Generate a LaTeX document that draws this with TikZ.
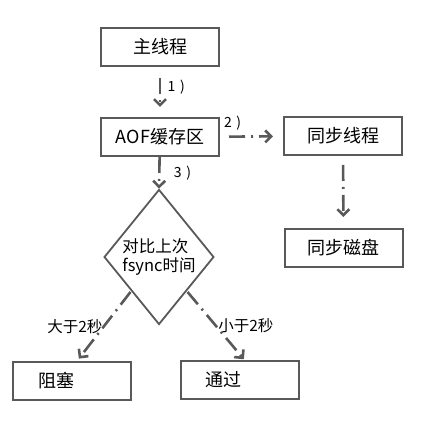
\documentclass[tikz,border=0pt]{standalone}
\usepackage{fontspec}
\setmainfont{Noto Sans CJK SC}
\usetikzlibrary{arrows.meta,shapes.geometric}
\definecolor{lngray}{RGB}{89,89,89}

\begin{document}
\begin{tikzpicture}[x=1pt, y=1pt,
  box/.style={draw=lngray, line width=2pt, minimum width=118pt,
    minimum height=38pt, inner sep=0pt, font=\fontsize{18}{21}\selectfont},
  endbox/.style={box, text width=68pt, inner xsep=25pt, align=left},
  choice/.style={draw=lngray, line width=1.8pt, diamond, inner sep=0pt,
    minimum width=106pt, minimum height=135pt, align=left,
    font=\fontsize{16.5}{19}\selectfont},
  arr/.style={-{Straight Barb[length=6pt, width=12pt]}, line width=2.6pt,
    lngray, dash pattern=on 16pt off 6pt on 2pt off 6pt},
  lbl/.style={text=black, font=\fontsize{14}{16}\selectfont},
  cond/.style={text=black, font=\fontsize{15.5}{18}\selectfont}]
\useasboundingbox (0,0) rectangle (430,420);
% Main thread and buffer
\node[box] (main) at (160,373) {主线程};
\node[box] (aof) at (160,283) {AOF缓存区};
\draw[arr, shorten <=11pt, shorten >=10pt] (main) -- (aof)
  node[lbl, pos=0.4, right=3pt] {1\,\,)};
% Right: sync thread and disk
\node[box] (sync) at (343,284) {同步线程};
\node[box] (disk) at (343.5,172) {同步磁盘};
\draw[arr, shorten <=9pt, shorten >=10pt] (aof) -- (sync)
  node[lbl, pos=0.2, above=2pt] {2\,\,)};
\draw[arr, shorten <=9pt, shorten >=11pt] (sync) -- (disk);
% Bottom: compare with last fsync
\node[choice] (cmp) at (159,163) {对比上次\\fsync时间};
\draw[arr] (aof) -- (cmp.north)
  node[lbl, midway, right=10pt] {3\,\,)};
\node[endbox] (block) at (72,39) {阻塞};
\node[endbox] (pass) at (239.5,40) {通过};
\draw[arr, shorten <=1pt, shorten >=3pt] (cmp.south west) -- ([xshift=5pt]block.north)
  node[cond, midway, left=-3pt] {大于2秒};
\draw[arr, shorten <=1pt, shorten >=1pt] (cmp.south east) -- ([xshift=5pt]pass.north)
  node[cond, midway, right=-2pt] {小于2秒};
\end{tikzpicture}
\end{document}
